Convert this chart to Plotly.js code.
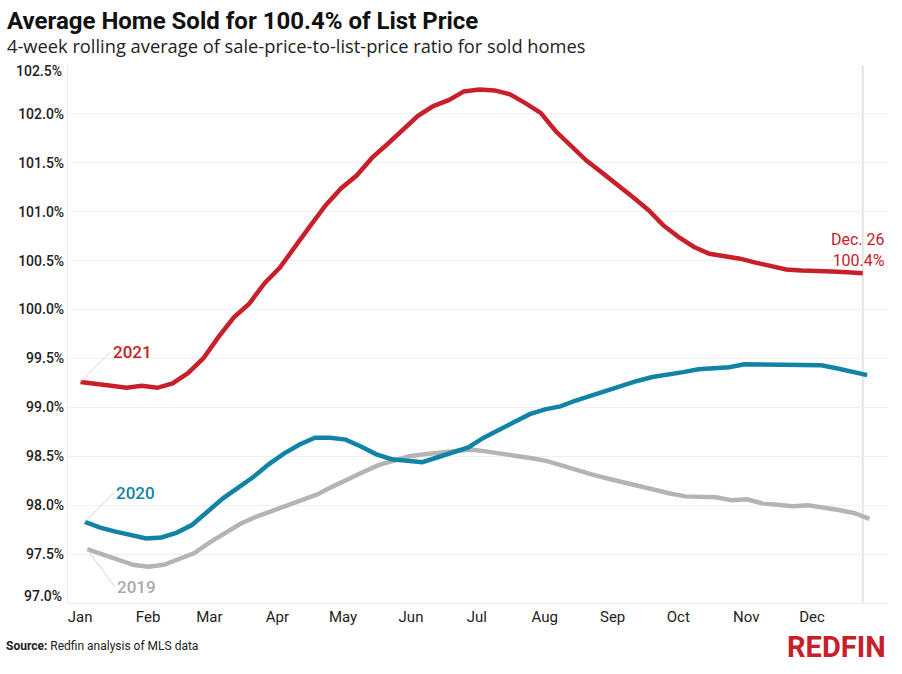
<!DOCTYPE html>
<html>
<head>
<meta charset="utf-8">
<script src="https://cdn.plot.ly/plotly-3.0.1.min.js"></script>
<style>
  html, body { margin: 0; padding: 0; background: #fff; }
  #chart { width: 902px; height: 674px; }
</style>
</head>
<body>
<div id="chart"></div>
<script>
// ---- Data ----
const monthTicks = ['2021-01-01','2021-02-01','2021-03-01','2021-04-01','2021-05-01','2021-06-01',
                    '2021-07-01','2021-08-01','2021-09-01','2021-10-01','2021-11-01','2021-12-01'];
const yTicks = [97.0, 97.5, 98.0, 98.5, 99.0, 99.5, 100.0, 100.5, 101.0, 101.5, 102.0, 102.5];

// first weekly observation of each year, mapped onto one calendar year
const start2021 = '2021-01-03';
const start2020 = '2021-01-05';
const start2019 = '2021-01-06';

const ratio2021 = [99.26,99.235,99.22,99.20,99.22,99.20,99.245,99.35,99.50,99.72,99.92,100.06,100.27,100.43,
  100.65,100.86,101.07,101.24,101.37,101.55,101.69,101.84,101.98,102.08,102.14,102.23,102.25,102.24,102.20,
  102.11,102.01,101.82,101.67,101.52,101.40,101.28,101.15,101.02,100.86,100.74,100.64,100.57,100.55,100.52,
  100.48,100.45,100.41,100.40,100.40,100.39,100.38,100.37];
const ratio2020 = [97.83,97.77,97.73,97.69,97.66,97.67,97.72,97.80,97.93,98.07,98.18,98.29,98.42,98.53,98.62,
  98.69,98.69,98.67,98.60,98.52,98.47,98.45,98.44,98.49,98.54,98.59,98.69,98.77,98.85,98.93,98.98,99.01,99.07,
  99.12,99.18,99.23,99.27,99.31,99.33,99.36,99.39,99.40,99.41,99.44,99.44,99.44,99.44,99.44,99.43,99.40,99.37,99.33];
const ratio2019 = [97.55,97.50,97.44,97.39,97.37,97.39,97.45,97.51,97.62,97.72,97.81,97.88,97.94,97.99,98.05,
  98.11,98.19,98.27,98.34,98.41,98.45,98.50,98.52,98.54,98.56,98.57,98.55,98.53,98.50,98.48,98.45,98.40,98.35,
  98.31,98.27,98.23,98.19,98.15,98.12,98.09,98.09,98.08,98.05,98.06,98.02,98.00,97.99,98.00,97.98,97.95,97.92,97.86];

const lastLabel = 'Dec. 26<br>100.4%';

// ---- helpers ----
function weekly(start, n) {
  const d0 = new Date(start + 'T00:00:00Z').getTime();
  const out = [];
  for (let i = 0; i < n; i++) out.push(new Date(d0 + i * 7 * 86400000).toISOString().slice(0, 10));
  return out;
}
const x2021 = weekly(start2021, ratio2021.length);
const x2020 = weekly(start2020, ratio2020.length);
const x2019 = weekly(start2019, ratio2019.length);

const W = 902, H = 674;
const M = { l: 68, r: 14, t: 65, b: 71 };
const px = p => (p - M.l) / (W - M.l - M.r);
const py = p => (H - M.b - p) / (H - M.t - M.b);

const RED = '#c8202a', TEAL = '#1184a6', GRAY = '#b4b4b4';
const FONT = 'Roboto, "Noto Sans", Arial, sans-serif';
const WIDE = '"Open Sans", Roboto, sans-serif';

const traces = [
  { x: x2019, y: ratio2019, name: '2019', mode: 'lines', line: { color: GRAY, width: 4.5 } },
  { x: x2020, y: ratio2020, name: '2020', mode: 'lines', line: { color: TEAL, width: 4.5 } },
  { x: x2021, y: ratio2021, name: '2021', mode: 'lines', line: { color: RED, width: 4.5 } }
];

const tickText = yTicks.map((v, i) => (i === 0 || i === yTicks.length - 1) ? '' : v.toFixed(1) + '%');

const annotations = [
  // title & subtitle
  { xref: 'paper', yref: 'paper', x: px(5), y: py(21), xanchor: 'left', yanchor: 'middle', showarrow: false,
    text: 'Average Home Sold for 100.4% of List Price', font: { family: FONT, size: 24, color: '#111', weight: 700 } },
  { xref: 'paper', yref: 'paper', x: px(5), y: py(45), xanchor: 'left', yanchor: 'middle', showarrow: false,
    text: '4-week rolling average of sale-price-to-list-price ratio for sold homes', font: { family: WIDE, size: 18.3, color: '#222' } },
  // edge y tick labels (shifted inward like reference)
  { xref: 'paper', yref: 'y', x: 0, y: yTicks[yTicks.length - 1], xanchor: 'right', yanchor: 'middle', xshift: -4, yshift: -6,
    showarrow: false, text: yTicks[yTicks.length - 1].toFixed(1) + '%', font: { family: FONT, size: 14, color: '#222', weight: 500 } },
  { xref: 'paper', yref: 'y', x: 0, y: yTicks[0], xanchor: 'right', yanchor: 'middle', xshift: -4, yshift: 7,
    showarrow: false, text: yTicks[0].toFixed(1) + '%', font: { family: FONT, size: 14, color: '#222', weight: 500 } },
  // series labels with leader lines
  { x: x2021[0], y: ratio2021[0], ax: 30, ay: -30, xanchor: 'left', yanchor: 'middle', text: '2021',
    showarrow: true, arrowhead: 0, arrowwidth: 1, arrowcolor: '#d4d4d4', font: { family: FONT, size: 17, color: RED, weight: 500 } },
  { x: x2020[0], y: ratio2020[0], ax: 29, ay: -29, xanchor: 'left', yanchor: 'middle', text: '2020',
    showarrow: true, arrowhead: 0, arrowwidth: 1, arrowcolor: '#d4d4d4', font: { family: FONT, size: 17, color: TEAL, weight: 500 } },
  { x: x2019[0], y: ratio2019[0], ax: 28, ay: 38, xanchor: 'left', yanchor: 'middle', text: '2019',
    showarrow: true, arrowhead: 0, arrowwidth: 1, arrowcolor: '#d4d4d4', font: { family: FONT, size: 17, color: '#aaaaaa', weight: 500 } },
  // end label
  { xref: 'paper', yref: 'paper', x: px(887), y: py(250), xanchor: 'right', yanchor: 'middle', align: 'right',
    showarrow: false, text: lastLabel, font: { family: FONT, size: 16, color: RED } },
  // source
  { xref: 'paper', yref: 'paper', x: px(4), y: py(646), xanchor: 'left', yanchor: 'middle', showarrow: false,
    text: '<b>Source:</b> Redfin analysis of MLS data', font: { family: FONT, size: 12, color: '#222' } },
  // logo
  { xref: 'paper', yref: 'paper', x: px(888), y: py(647), xanchor: 'right', yanchor: 'middle', showarrow: false,
    text: '<b>REDFIN</b>', font: { family: FONT, size: 29, color: '#c8202a' } }
];

const layout = {
  width: W, height: H,
  margin: M,
  paper_bgcolor: '#fff', plot_bgcolor: '#fff',
  showlegend: false,
  hovermode: false,
  xaxis: {
    type: 'date',
    range: ['2020-12-28 07:00', '2022-01-06 12:00'],
    tickvals: monthTicks,
    tickformat: '%b',
    ticks: '',
    showgrid: false,
    showline: true, linecolor: '#ececec', linewidth: 1,
    zeroline: false,
    tickfont: { family: FONT, size: 15, color: '#222' },
    ticklabelshift: 4
  },
  yaxis: {
    range: [97.0, 102.5],
    tickvals: yTicks,
    ticktext: tickText,
    ticks: '',
    showgrid: true, gridcolor: '#f0f0f0', gridwidth: 1,
    showline: true, linecolor: '#ececec', linewidth: 1,
    zeroline: false,
    tickfont: { family: FONT, size: 14, color: '#222', weight: 500 }
  },
  shapes: [
    { type: 'line', xref: 'x', yref: 'paper', x0: x2021[x2021.length - 1], x1: x2021[x2021.length - 1], y0: 0, y1: 1,
      line: { color: '#e4e4e4', width: 2 }, layer: 'below' }
  ],
  annotations: annotations
};

Plotly.newPlot('chart', traces, layout, { displayModeBar: false, staticPlot: true });
</script>
</body>
</html>
